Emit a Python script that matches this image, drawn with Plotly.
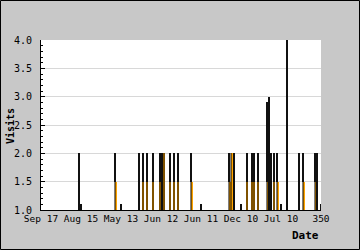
import plotly.graph_objects as go

# Day index along the x axis (0..350)
day_index = [46.9, 49.4, 93.1, 99.4, 122.5, 126.9, 131.9, 139.4, 148.75, 151.25,
             153.75, 161.25, 166.25, 171.25, 188.1, 199.4, 235.6, 238.1, 241.25, 249.4,
             256.9, 263.75, 266.25, 271.25, 283.1, 284.6, 288.1, 291.25, 295.4, 299.4,
             307.5, 322.5, 328.1, 343.1, 345.6, 349.4]
# Visits per day
visits = [2.0, 1.1, 2.0, 1.1, 2.0, 2.0, 2.0, 2.0, 2.0, 2.0,
          2.0, 2.0, 2.0, 2.0, 2.0, 1.1, 2.0, 2.0, 2.0, 1.1,
          2.0, 2.0, 2.0, 2.0, 2.9, 3.0, 2.0, 2.0, 2.0, 1.1,
          4.0, 2.0, 2.0, 2.0, 2.0, 1.1]
# Orange (secondary) level per day, None where absent
orange_level = [None, None, 1.5, None, None, 1.5, 1.5, 1.5, 1.5, None,
                2.0, 1.5, 1.5, 1.5, 1.5, None, 1.5, 2.0, None, None,
                1.5, 1.5, 1.5, 1.5, 1.5, None, None, 1.5, 1.5, None,
                None, None, 1.5, 1.5, None, None]

tick_vals = [0, 50, 100, 150, 200, 250, 300, 350]
tick_text = ["Sep 17", "Aug 15", "May 13", "Jun 12", "Jun 11", "Dec 10", "Jul 10", "350"]

FONT = "DejaVu Sans Mono"
BW = 2.5  # bar width in data units (~2 px)

fig = go.Figure()
ox = [d + 0.5 for d, o in zip(day_index, orange_level) if o is not None]
oy = [o for o in orange_level if o is not None]
# orange part
fig.add_trace(go.Bar(x=ox, y=oy, width=BW, marker=dict(color="#ffa500", line=dict(width=0)),
                     showlegend=False, hoverinfo="skip"))
# translucent dark overlay on the orange part
lx = [d for d, o in zip(day_index, orange_level) if o is not None]
ly = [min(v, o) for v, o in zip(visits, orange_level) if o is not None]
fig.add_trace(go.Bar(x=lx, y=ly, width=BW, marker=dict(color="rgba(0,0,0,0.5)", line=dict(width=0)),
                     showlegend=False, hoverinfo="skip"))
# solid black part above the orange level
bases = [o if o is not None else 0 for o in orange_level]
heights = [max(v - b, 0) for v, b in zip(visits, bases)]
fig.add_trace(go.Bar(x=day_index, y=heights, base=bases, width=BW,
                     marker=dict(color="#111111", line=dict(width=0)),
                     showlegend=False))

W, H = 360, 250
L, R, T, B = 41, 39, 40, 40
pw, ph = W - L - R, H - T - B

fig.update_layout(
    width=W, height=H,
    margin=dict(l=L, r=R, t=T, b=B, pad=0),
    paper_bgcolor="#c8c8c8",
    plot_bgcolor="#ffffff",
    barmode="overlay",
    bargap=0,
    font=dict(family=FONT, size=9, color="#000000"),
    xaxis=dict(range=[0, 350], tickmode="array", tickvals=tick_vals, ticktext=tick_text,
               showgrid=False, zeroline=False, showline=True, linecolor="#000000",
               linewidth=1, ticks="", tickfont=dict(family=FONT, size=9.5), fixedrange=True),
    yaxis=dict(range=[1.0, 4.0], dtick=0.5, tickformat=".1f", showgrid=True,
               gridcolor="#d8d8d8", gridwidth=1, zeroline=False, showline=True,
               linecolor="#000000", linewidth=1, ticks="inside", ticklen=4,
               tickcolor="#000000", ticklabelstandoff=6,
               minor=dict(dtick=0.1, ticks="inside", ticklen=2, tickcolor="#000000", showgrid=False),
               tickfont=dict(family=FONT, size=10), fixedrange=True),
    annotations=[
        dict(text="<b>Visits</b>", xref="paper", yref="paper",
             x=(10 - L) / pw, y=(H - B - 126) / ph, textangle=-90, showarrow=False,
             font=dict(family=FONT, size=10, color="#000000"), xanchor="center", yanchor="middle"),
        dict(text="<b>Date</b>", xref="paper", yref="paper",
             x=(305 - L) / pw, y=-(236 - (H - B)) / ph, showarrow=False,
             font=dict(family=FONT, size=11, color="#000000"), xanchor="center", yanchor="middle"),
    ],
    shapes=[
        dict(type="rect", xref="paper", yref="paper",
             x0=(0.5 - L) / pw, x1=(W - 0.5 - L) / pw,
             y0=-(H - 0.5 - T - ph) / ph, y1=(T - 0.5) / ph + 1,
             line=dict(color="#000000", width=1), fillcolor="rgba(0,0,0,0)", layer="above"),
    ],
)

fig.write_html("out.html")
